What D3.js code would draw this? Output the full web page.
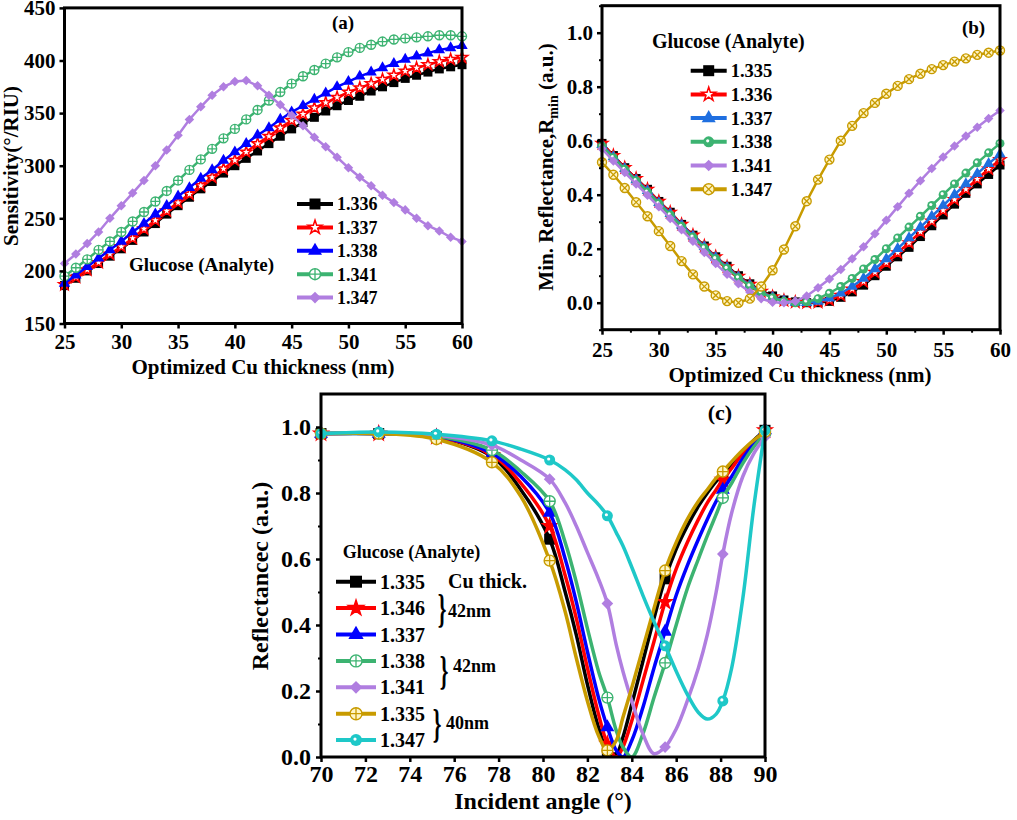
<!DOCTYPE html>
<html>
<head>
<meta charset="utf-8">
<title>SPR glucose sensor - Cu thickness</title>
<style>
  body { margin: 0; background: #fff; }
  svg text { font-family: "Liberation Serif", "Times New Roman", serif; font-weight: bold; fill: #000; }
</style>
</head>
<body>
<svg id="fig" width="1017" height="820"></svg>
<script src="https://d3js.org/d3.v7.min.js"></script>
<script>
// ---- panel (a): sensitivity vs Cu thickness ----
var thicknessNm = [25,26,27,28,29,30,31,32,33,34,35,36,37,38,39,40,41,42,43,44,45,46,47,48,49,50,51,52,53,54,55,56,57,58,59,60];
var sens1336 = [186,193,200,207,214,221,229,237,245,254,262,270,278,285,293,300,307,314,321,328,335,341,346,352,357,362,366,371,375,379,383,386,389,392,394,396];
var sens1337 = [187,194,201,208,216,223,231,240,248,257,265,273,281,289,297,305,313,321,328,336,343,349,355,360,365,370,374,378,382,386,390,393,396,399,401,403];
var sens1338 = [188,196,204,212,220,228,237,245,254,262,271,279,288,296,305,313,321,329,336,344,351,357,363,369,375,380,385,389,393,397,401,404,407,410,412,414];
var sens1341 = [195,203,211,220,228,237,247,256,266,276,286,296,306,316,326,335,344,353,362,370,378,385,391,397,403,408,412,415,418,420,421,422,423,424,424,423];
var sens1347 = [207,216,226,237,250,262,274,286,300,315,329,344,356,367,375,380,381,376,367,358,348,338,327,318,308,298,289,281,272,265,258,250,243,238,232,228];

// ---- panel (b): minimum reflectance vs Cu thickness ----
var rmin1335 = [0.59,0.545,0.50,0.46,0.42,0.375,0.335,0.29,0.25,0.21,0.17,0.135,0.10,0.07,0.045,0.025,0.01,0.003,0.0,0.0,0.005,0.02,0.04,0.065,0.1,0.135,0.17,0.205,0.245,0.285,0.325,0.365,0.405,0.44,0.475,0.51];
var rmin1336 = [0.59,0.545,0.50,0.46,0.42,0.375,0.335,0.29,0.25,0.21,0.17,0.133,0.098,0.068,0.042,0.022,0.008,0.002,0.0,0.002,0.01,0.027,0.05,0.078,0.112,0.148,0.185,0.222,0.262,0.302,0.342,0.382,0.42,0.458,0.495,0.53];
var rmin1337 = [0.585,0.54,0.497,0.455,0.415,0.37,0.33,0.287,0.247,0.207,0.167,0.13,0.095,0.065,0.04,0.02,0.007,0.001,0.0,0.005,0.017,0.035,0.06,0.09,0.125,0.162,0.2,0.24,0.28,0.32,0.36,0.4,0.44,0.478,0.515,0.55];
var rmin1338 = [0.58,0.537,0.494,0.452,0.41,0.367,0.325,0.283,0.243,0.203,0.163,0.127,0.092,0.062,0.037,0.018,0.005,0.0,0.003,0.015,0.035,0.06,0.09,0.125,0.16,0.2,0.24,0.28,0.32,0.36,0.4,0.44,0.48,0.518,0.555,0.59];
var rmin1341 = [0.57,0.525,0.482,0.44,0.398,0.355,0.312,0.27,0.228,0.186,0.145,0.105,0.07,0.04,0.015,0.002,0.0,0.005,0.025,0.055,0.088,0.123,0.163,0.207,0.255,0.305,0.355,0.405,0.452,0.497,0.54,0.58,0.617,0.65,0.682,0.712];
var rmin1347 = [0.52,0.474,0.425,0.372,0.32,0.265,0.21,0.154,0.105,0.06,0.027,0.006,0.0,0.015,0.06,0.12,0.197,0.283,0.376,0.456,0.53,0.6,0.655,0.702,0.74,0.774,0.803,0.828,0.848,0.865,0.88,0.893,0.905,0.918,0.926,0.934];

// ---- panel (c): reflectance vs incident angle ----
var angleDeg = [70,72.6,75.2,77.7,79,80.3,81,81.5,82,82.5,82.9,83.3,83.6,84,84.5,85,85.5,86,86.5,87,87.4,87.8,88.1,88.5,89,89.5,90];
var markerAngles = [70,72.6,75.2,77.7,80.3,82.9,85.5,88.1,90];
var refl1335 = [0.98,0.98,0.97,0.91,0.81,0.66,0.50,0.37,0.22,0.09,0.02,0.01,0.06,0.16,0.29,0.42,0.54,0.63,0.70,0.76,0.80,0.835,0.855,0.885,0.925,0.96,0.99];
var refl1346 = [0.98,0.98,0.97,0.915,0.83,0.70,0.55,0.42,0.27,0.13,0.04,0.0,0.03,0.11,0.23,0.35,0.47,0.57,0.65,0.72,0.77,0.81,0.84,0.875,0.92,0.955,0.99];
var refl1337 = [0.98,0.98,0.972,0.92,0.85,0.74,0.60,0.47,0.32,0.18,0.09,0.02,0.0,0.05,0.15,0.27,0.38,0.49,0.58,0.66,0.72,0.775,0.81,0.85,0.905,0.95,0.99];
var refl1338 = [0.98,0.98,0.973,0.93,0.865,0.775,0.65,0.53,0.39,0.26,0.18,0.08,0.03,0.0,0.07,0.18,0.285,0.40,0.51,0.60,0.67,0.735,0.785,0.83,0.89,0.94,0.98];
var refl1341 = [0.98,0.982,0.975,0.945,0.90,0.842,0.77,0.70,0.62,0.54,0.465,0.34,0.26,0.17,0.07,0.01,0.03,0.085,0.17,0.27,0.37,0.50,0.615,0.74,0.85,0.92,0.97];
var refl1335b = [0.98,0.98,0.963,0.893,0.79,0.595,0.44,0.30,0.17,0.065,0.02,0.05,0.12,0.21,0.33,0.45,0.565,0.65,0.72,0.775,0.81,0.845,0.865,0.895,0.93,0.96,0.985];
var refl1347 = [0.98,0.985,0.978,0.958,0.933,0.90,0.87,0.84,0.80,0.765,0.731,0.68,0.64,0.575,0.49,0.41,0.337,0.26,0.19,0.135,0.115,0.13,0.17,0.27,0.48,0.76,0.99];

var svg = d3.select("#fig");

// draw one marker symbol centred on (cx, cy)
function marker(g, kind, color, cx, cy, s) {
  var m = g.append("g").attr("transform", "translate(" + cx + "," + cy + ")");
  if (kind == "square") {
    m.append("rect").attr("x", -s/2).attr("y", -s/2).attr("width", s).attr("height", s).attr("fill", color);
  } else if (kind == "starOpen" || kind == "star") {
    m.append("path").attr("d", d3.symbol(d3.symbolStar, s * s * 0.5)())
      .attr("fill", kind == "star" ? color : "#fff").attr("stroke", color).attr("stroke-width", 1.5);
  } else if (kind == "triangle") {
    m.append("path").attr("d", d3.symbol(d3.symbolTriangle, s * s * 0.7)()).attr("fill", color);
  } else if (kind == "diamond") {
    var d = s * 0.75;
    m.append("rect").attr("x", -d/2).attr("y", -d/2).attr("width", d).attr("height", d)
      .attr("transform", "rotate(45)").attr("fill", color);
  } else if (kind == "circlePlus" || kind == "circleX") {
    var r = s / 2, fill = kind == "circleX" || color == "#c89b00" ? "#fff5c4" : "#fff";
    m.append("circle").attr("r", r).attr("fill", fill).attr("stroke", color).attr("stroke-width", 1.4);
    var k = kind == "circleX" ? r * 0.7 : r;
    var p = kind == "circleX"
      ? "M" + (-k) + "," + (-k) + "L" + k + "," + k + "M" + (-k) + "," + k + "L" + k + "," + (-k)
      : "M" + (-k) + ",0L" + k + ",0M0," + (-k) + "L0," + k;
    m.append("path").attr("d", p).attr("stroke", color).attr("stroke-width", 1.3);
  } else if (kind == "ball") {
    m.append("circle").attr("r", s / 2).attr("fill", color);
    m.append("circle").attr("cx", -1).attr("cy", -1).attr("r", 1.6).attr("fill", "#fff");
  }
}

function drawPanel(p) {
  var g = svg.append("g");
  var x = d3.scaleLinear().domain(p.xDomain).range([p.left, p.right]);
  var y = d3.scaleLinear().domain(p.yDomain).range([p.bottom, p.top]);
  var clipId = "clip" + p.name;
  g.append("clipPath").attr("id", clipId).append("rect")
    .attr("x", p.left).attr("y", p.top).attr("width", p.right - p.left).attr("height", p.bottom - p.top);

  // series
  p.series.forEach(function(s) {
    var pts = p.xs.map(function(v, i) { return [v, s.values[i]]; });
    var line = d3.line().x(function(d) { return x(d[0]); }).y(function(d) { return y(d[1]); }).curve(p.curve);
    g.append("path").attr("d", line(pts)).attr("fill", "none").attr("stroke", s.color)
      .attr("stroke-width", p.lineWidth).attr("clip-path", "url(#" + clipId + ")");
    var mk = g.append("g");
    pts.forEach(function(d) {
      if (p.markAt && p.markAt.indexOf(d[0]) < 0) return;
      marker(mk, s.kind, s.color, x(d[0]), y(d[1]), p.markSize);
    });
  });

  // axes
  var xa = g.append("g").attr("transform", "translate(0," + p.bottom + ")")
    .call(d3.axisBottom(x).tickValues(p.xTicks).tickSize(5).tickPadding(p.xPad).tickFormat(p.xFmt));
  var ya = g.append("g").attr("transform", "translate(" + p.left + ",0)")
    .call(d3.axisLeft(y).tickValues(p.yTicks).tickSize(5).tickPadding(p.yPad).tickFormat(p.yFmt));
  [xa, ya].forEach(function(a) {
    a.select(".domain").remove();
    a.attr("font-family", null).attr("font-size", p.tickFs);
    a.selectAll("line").attr("stroke", "#000").attr("stroke-width", 2.5);
  });
  if (p.xMinor) {
    g.append("g").attr("transform", "translate(0," + p.bottom + ")")
      .call(d3.axisBottom(x).tickValues(p.xMinor).tickSize(3).tickFormat(""))
      .call(function(a) { a.select(".domain").remove(); a.selectAll("line").attr("stroke-width", 2); });
  }
  if (p.yMinor) {
    g.append("g").attr("transform", "translate(" + p.left + ",0)")
      .call(d3.axisLeft(y).tickValues(p.yMinor).tickSize(3).tickFormat(""))
      .call(function(a) { a.select(".domain").remove(); a.selectAll("line").attr("stroke-width", 2); });
  }
  g.append("rect").attr("x", p.left).attr("y", p.top).attr("width", p.right - p.left).attr("height", p.bottom - p.top)
    .attr("fill", "none").attr("stroke", "#000").attr("stroke-width", 3);

  // legend
  p.series.forEach(function(s, i) {
    var ly = p.legend.y + i * p.legend.dy;
    g.append("line").attr("x1", p.legend.x).attr("x2", p.legend.x + p.legend.len)
      .attr("y1", ly).attr("y2", ly).attr("stroke", s.color).attr("stroke-width", 4);
    marker(g, s.kind, s.color, p.legend.x + p.legend.len / 2, ly, p.legend.markSize);
    g.append("text").attr("x", p.legend.x + p.legend.len + 4).attr("y", ly).attr("dy", "0.35em")
      .attr("font-size", p.legend.fs).text(s.label);
  });
  return g;
}

// panel (a)
var ga = drawPanel({
  name: "a", left: 64.5, right: 462, top: 7.9, bottom: 323.5,
  xDomain: [25, 60], yDomain: [150, 450], xs: thicknessNm, curve: d3.curveLinear,
  lineWidth: 2.5, markSize: 9,
  xTicks: [25,30,35,40,45,50,55,60], yTicks: [150,200,250,300,350,400,450],
  xFmt: d3.format("d"), yFmt: d3.format("d"), xPad: 6, yPad: 4, tickFs: 21,
  series: [
    {label: "1.336", color: "#000", kind: "square", values: sens1336},
    {label: "1.337", color: "#ff0000", kind: "starOpen", values: sens1337},
    {label: "1.338", color: "#0000ff", kind: "triangle", values: sens1338},
    {label: "1.341", color: "#3cb371", kind: "circlePlus", values: sens1341},
    {label: "1.347", color: "#b07ee0", kind: "diamond", values: sens1347}
  ],
  legend: {x: 297, y: 204, dy: 23.4, len: 36, fs: 18, markSize: 11}
});
ga.append("text").attr("x", 129).attr("y", 271).attr("font-size", 19).text("Glucose (Analyte)");
ga.append("text").attr("x", 343).attr("y", 29).attr("text-anchor", "middle").attr("font-size", 19).text("(a)");
ga.append("text").attr("x", 263).attr("y", 374).attr("text-anchor", "middle").attr("font-size", 21).text("Optimized Cu thickness (nm)");
ga.append("text").attr("transform", "translate(18,166) rotate(-90)").attr("text-anchor", "middle")
  .attr("font-size", 21).text("Sensitivity(\u00b0/RIU)");

// panel (b)
var gb = drawPanel({
  name: "b", left: 602, right: 1000, top: 5.7, bottom: 329.7,
  xDomain: [25, 60], yDomain: [-0.1, 1.1], xs: thicknessNm, curve: d3.curveLinear,
  lineWidth: 2.5, markSize: 9,
  xTicks: [25,30,35,40,45,50,55,60], yTicks: [0,0.2,0.4,0.6,0.8,1.0],
  xMinor: [27.5,32.5,37.5,42.5,47.5,52.5,57.5], yMinor: [-0.1,0.1,0.3,0.5,0.7,0.9,1.1],
  xFmt: d3.format("d"), yFmt: d3.format(".1f"), xPad: 7, yPad: 4, tickFs: 21,
  series: [
    {label: "1.335", color: "#000", kind: "square", values: rmin1335},
    {label: "1.336", color: "#ff0000", kind: "starOpen", values: rmin1336},
    {label: "1.337", color: "#1f6fe0", kind: "triangle", values: rmin1337},
    {label: "1.338", color: "#3cb371", kind: "ball", values: rmin1338},
    {label: "1.341", color: "#b07ee0", kind: "diamond", values: rmin1341},
    {label: "1.347", color: "#c89b00", kind: "circleX", values: rmin1347}
  ],
  legend: {x: 690.7, y: 70.7, dy: 23.7, len: 36, fs: 18.5, markSize: 11}
});
gb.append("text").attr("x", 652).attr("y", 48).attr("font-size", 20).text("Glucose (Analyte)");
gb.append("text").attr("x", 973.5).attr("y", 34).attr("text-anchor", "middle").attr("font-size", 19).text("(b)");
gb.append("text").attr("x", 800).attr("y", 382).attr("text-anchor", "middle").attr("font-size", 21).text("Optimized Cu thickness (nm)");
var yt = gb.append("text").attr("transform", "translate(553,167) rotate(-90)").attr("text-anchor", "middle").attr("font-size", 21);
yt.append("tspan").text("Min. Reflectance,R");
yt.append("tspan").attr("dy", 5).attr("font-size", 14).text("min");
yt.append("tspan").attr("dy", -5).text(" (a.u.)");

// panel (c)
var gc = drawPanel({
  name: "c", left: 321, right: 765, top: 394, bottom: 757,
  xDomain: [70, 90], yDomain: [0, 1.1], xs: angleDeg, curve: d3.curveCatmullRom.alpha(0.5),
  lineWidth: 3.5, markSize: 11, markAt: markerAngles,
  xTicks: [70,72,74,76,78,80,82,84,86,88,90], yTicks: [0,0.2,0.4,0.6,0.8,1.0],
  yMinor: [0.1,0.3,0.5,0.7,0.9],
  xFmt: d3.format("d"), yFmt: d3.format(".1f"), xPad: 3, yPad: 5, tickFs: 24,
  series: [
    {label: "1.335", color: "#000", kind: "square", values: refl1335},
    {label: "1.346", color: "#ff0000", kind: "star", values: refl1346},
    {label: "1.337", color: "#0000ff", kind: "triangle", values: refl1337},
    {label: "1.338", color: "#3cb371", kind: "circlePlus", values: refl1338},
    {label: "1.341", color: "#b07ee0", kind: "diamond", values: refl1341},
    {label: "1.335", color: "#c89b00", kind: "circlePlus", values: refl1335b},
    {label: "1.347", color: "#1ec8c8", kind: "ball", values: refl1347}
  ],
  legend: {x: 336, y: 581.7, dy: 26.4, len: 40, fs: 20, markSize: 12}
});
gc.append("text").attr("x", 342.7).attr("y", 558).attr("font-size", 18).text("Glucose (Analyte)");
gc.append("text").attr("x", 448).attr("y", 588).attr("font-size", 20).text("Cu thick.");
[[442, 612, 448, 617, "42nm"], [444, 674, 453, 672, "42nm"], [437, 726.5, 446, 728.5, "40nm"]].forEach(function(b) {
  gc.append("text").attr("transform", "translate(" + b[0] + "," + (b[1] + 10) + ") scale(0.55,1)")
    .attr("text-anchor", "middle").attr("font-weight", "normal").attr("font-size", 40).text("}");
  gc.append("text").attr("x", b[2]).attr("y", b[3]).attr("font-size", 18).text(b[4]);
});
gc.append("text").attr("x", 720).attr("y", 420).attr("text-anchor", "middle").attr("font-size", 22).text("(c)");
gc.append("text").attr("x", 543).attr("y", 809).attr("text-anchor", "middle").attr("font-size", 24).text("Incident angle (\u00b0)");
gc.append("text").attr("transform", "translate(268,576) rotate(-90)").attr("text-anchor", "middle")
  .attr("font-size", 24).text("Reflectancec (a.u.)");
</script>
</body>
</html>
